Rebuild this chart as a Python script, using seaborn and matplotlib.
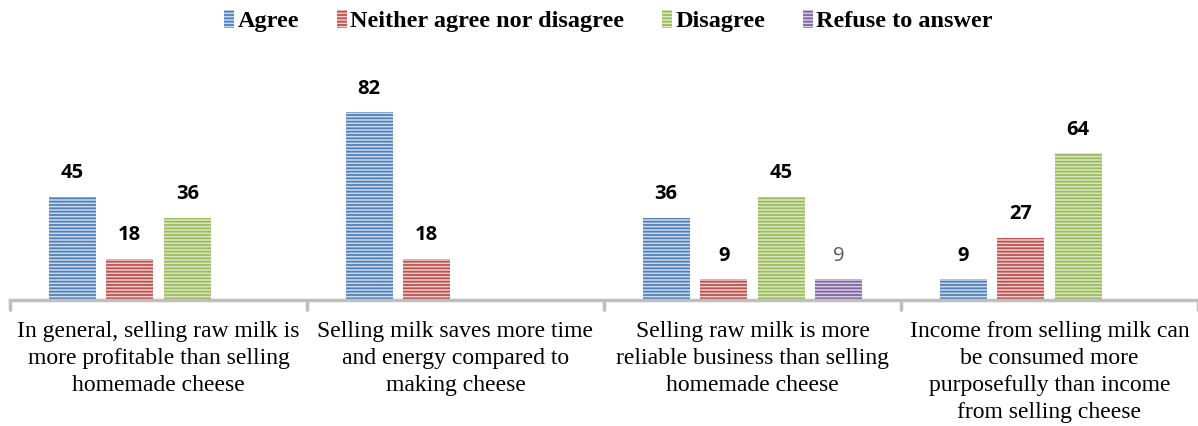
import numpy as np
import pandas as pd
import matplotlib
matplotlib.use("Agg")
import matplotlib.pyplot as plt
import seaborn as sns
from matplotlib.patches import Patch

# Data
categories = [
    "In general, selling raw milk is\nmore profitable than selling\nhomemade cheese",
    "Selling milk saves more time\nand energy compared to\nmaking cheese",
    "Selling raw milk is more\nreliable business than selling\nhomemade cheese",
    "Income from selling milk can\nbe consumed more\npurposefully than income\nfrom selling cheese",
]
answers = ["Agree", "Neither agree nor disagree", "Disagree", "Refuse to answer"]
agree = [45, 82, 36, 9]
neither = [18, 18, 9, 27]
disagree = [36, np.nan, 45, 64]
refuse = [np.nan, np.nan, 9, np.nan]

face_colors = ["#C9D8EE", "#EFCBCA", "#DDEAC3", "#D5CAE4"]
stripe_colors = ["#4F81BD", "#C0504D", "#9BBB59", "#8064A2"]

rows = []
for ans, vals in zip(answers, [agree, neither, disagree, refuse]):
    for cat, v in zip(categories, vals):
        rows.append({"statement": cat, "answer": ans, "value": v})
df = pd.DataFrame(rows)

sns.set_style("white")
plt.rcParams["hatch.linewidth"] = 1.3
plt.rcParams["text.color"] = "black"

fig = plt.figure(figsize=(11.98, 4.26), dpi=100)
ax = fig.add_axes([0.0083, 0.296, 0.9917, 0.563])

sns.barplot(data=df, x="statement", y="value", hue="answer", hue_order=answers,
            order=categories, palette=face_colors, width=0.775, gap=0.18,
            legend=False, ax=ax, errorbar=None)

for i, cont in enumerate(ax.containers):
    for bar in cont:
        bar.set_hatch("-----")
        bar.set_edgecolor(stripe_colors[i])
        bar.set_linewidth(0)
        h = bar.get_height()
        if np.isnan(h) or h == 0:
            continue
        if answers[i] == "Refuse to answer":
            ax.text(bar.get_x() + bar.get_width() / 2, h + 6, f"{h:.0f}",
                    ha="center", va="bottom", fontsize=14.5, color="#595959",
                    family="Open Sans")
        else:
            ax.text(bar.get_x() + bar.get_width() / 2, h + 6, f"{h:.0f}",
                    ha="center", va="bottom", fontsize=14.5, fontweight="bold",
                    color="black", family="Open Sans")

ax.set_ylim(0, 104.8)
ax.set_xlim(-0.5, 3.5)
ax.set_yticks([])
ax.set_xlabel("")
ax.set_ylabel("")
for s in ["top", "right", "left"]:
    ax.spines[s].set_visible(False)
ax.spines["bottom"].set_color("#BFBFBF")
ax.spines["bottom"].set_linewidth(2.5)

ax.set_xticks(range(len(categories)))
ax.set_xticklabels(categories, family="Liberation Serif", fontsize=17,
                   linespacing=1.38, va="top", color="black")
ax.tick_params(axis="x", which="major", length=0, pad=15, bottom=True)
ax.set_xticks([-0.5, 0.5, 1.5, 2.5, 3.5], minor=True)
ax.tick_params(axis="x", which="minor", length=8, width=2.5, color="#BFBFBF",
               direction="out", bottom=True)

handles = [Patch(facecolor=fc, edgecolor=sc, hatch="-----", linewidth=0)
           for fc, sc in zip(face_colors, stripe_colors)]
fig.legend(handles, answers, loc="center", bbox_to_anchor=(0.508, 0.951),
           ncol=4, frameon=False, handlelength=0.4, handleheight=0.8,
           handletextpad=0.15, columnspacing=1.55,
           prop={"family": "Liberation Serif", "weight": "bold", "size": 17.5})

fig.savefig("out.png", dpi=100)
